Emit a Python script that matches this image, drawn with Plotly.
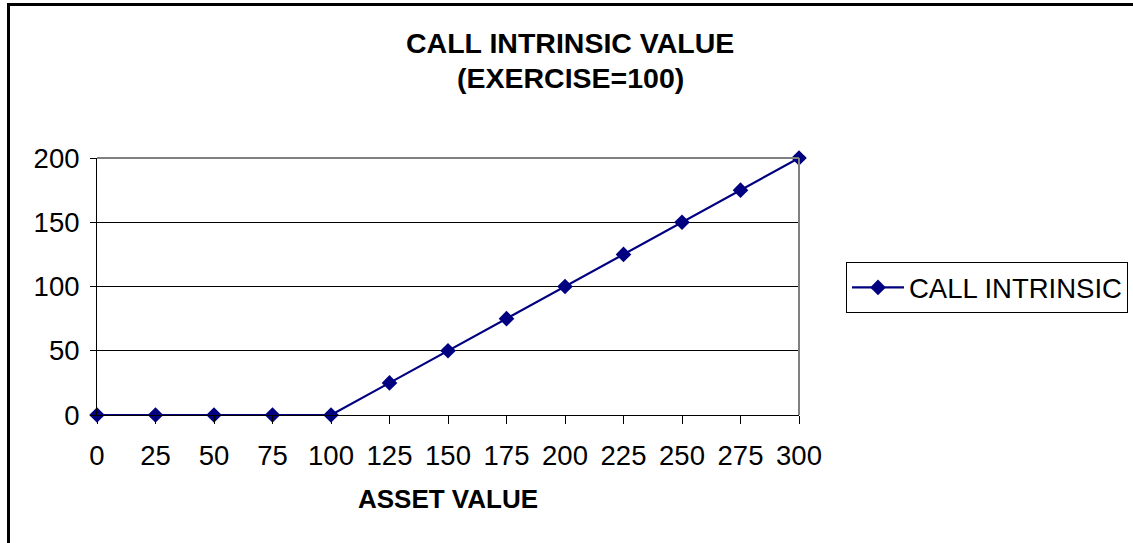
import plotly.graph_objects as go

asset_value = [0, 25, 50, 75, 100, 125, 150, 175, 200, 225, 250, 275, 300]
call_intrinsic = [0, 0, 0, 0, 0, 25, 50, 75, 100, 125, 150, 175, 200]
x_ticks = [0, 25, 50, 75, 100, 125, 150, 175, 200, 225, 250, 275, 300]
y_ticks = [0, 50, 100, 150, 200]
title_lines = ["CALL INTRINSIC VALUE", "(EXERCISE=100)"]

FONT = "Arial, 'Liberation Sans', sans-serif"
NAVY = "#000080"

fig = go.Figure()
fig.add_trace(go.Scatter(
    x=asset_value, y=call_intrinsic, mode="lines+markers",
    name="CALL INTRINSIC",
    line=dict(color=NAVY, width=2.2),
    marker=dict(symbol="diamond", size=12, color=NAVY),
    cliponaxis=False,
))

L, R, T, B = 97, 1133 - 799, 158, 543 - 415
PW, PH = 1133 - L - R, 543 - T - B

def px(x):
    return (x - L) / PW

def py(y):
    return (543 - B - y) / PH

fig.update_layout(
    width=1133, height=543,
    margin=dict(l=L, r=R, t=T, b=B, autoexpand=False),
    paper_bgcolor="white", plot_bgcolor="white",
    font=dict(family=FONT, size=27.5, color="black"),
    xaxis=dict(
        range=[0, 300], tickvals=x_ticks, ticktext=[str(v) for v in x_ticks],
        showgrid=False, zeroline=False,
        showline=True, linecolor="black", linewidth=1,
        ticks="outside", ticklen=8, tickcolor="black", tickwidth=1,
        ticklabelstandoff=8,
        title=dict(text="<b>ASSET VALUE</b>", font=dict(size=26, family=FONT), standoff=19),
        fixedrange=True,
    ),
    yaxis=dict(
        range=[0, 200], tickvals=y_ticks, ticktext=[str(v) for v in y_ticks],
        showgrid=True, gridcolor="black", gridwidth=1, zeroline=False,
        showline=True, linecolor="black", linewidth=1,
        ticks="outside", ticklen=6, tickcolor="black", tickwidth=1,
        ticklabelstandoff=5,
        fixedrange=True,
    ),
    showlegend=True,
    legend=dict(
        x=px(846), y=py(262), xanchor="left", yanchor="top",
        bordercolor="black", borderwidth=1, bgcolor="white",
        font=dict(size=27.5, family=FONT),
        itemwidth=52, tracegroupgap=0,
    ),
)

for line_text, cy in zip(title_lines, [43, 78]):
    fig.add_annotation(
        text="<b>" + line_text + "</b>", showarrow=False,
        xref="paper", yref="paper", x=px(570), y=py(cy),
        xanchor="center", yanchor="middle",
        font=dict(size=28.5, family=FONT, color="black"),
    )

# plot-area top/right border (gray) and outer chart border
fig.add_shape(type="line", xref="paper", yref="paper", x0=0, x1=1, y0=1, y1=1,
              line=dict(color="#808080", width=2))
fig.add_shape(type="line", xref="paper", yref="paper", x0=1, x1=1, y0=0, y1=1,
              line=dict(color="#808080", width=2))
fig.add_shape(type="rect", xref="paper", yref="paper",
              x0=px(8.5), x1=px(1150), y0=py(560), y1=py(4.5),
              line=dict(color="black", width=3), layer="above")

fig.write_html(
    "out.html",
    config={"displayModeBar": False, "staticPlot": True},
    post_script="document.body.style.margin='0';document.body.style.overflow='hidden';",
)
